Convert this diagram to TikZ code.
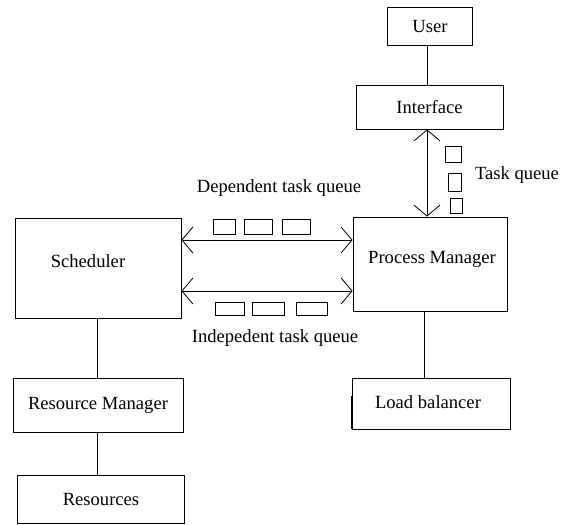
\documentclass[tikz,border=0pt]{standalone}
\usepackage{fontspec}
\setmainfont{Liberation Serif}
\usetikzlibrary{arrows.meta}
\begin{document}
\begin{tikzpicture}[x=1pt,y=-1pt,
  box/.style={draw,line width=0.8pt,inner sep=0pt,font=\fontsize{18.6}{20}\selectfont},
  qbox/.style={draw,line width=0.8pt,inner sep=0pt},
  lbl/.style={font=\fontsize{18.6}{20}\selectfont,inner sep=0pt},
  conn/.style={line width=0.8pt},
  biarrow/.style={line width=0.8pt,{Straight Barb[length=11pt,width=26pt]}-{Straight Barb[length=11pt,width=26pt]}}]
\useasboundingbox (0,0) rectangle (571,525);
% boxes
\node[box,minimum width=85,minimum height=38] (user) at (430,26) {User};
\node[box,minimum width=147,minimum height=44] (iface) at (429.5,107) {Interface};
\node[box,minimum width=154,minimum height=94] (pm) at (430,264) {};
\node[lbl] at (432,259) {Process Manager};
\node[box,minimum width=158,minimum height=51] (lb) at (431,403.5) {};
\node[lbl] at (428,402) {Load balancer};
\draw[line width=1.8pt] (lb.south west) -- ++(0,-33);
\node[box,minimum width=166,minimum height=100] (sched) at (98,268) {};
\node[lbl] at (88,261) {Scheduler};
\node[box,minimum width=170,minimum height=54] (rm) at (98,405) {Resource Manager};
\node[box,minimum width=167,minimum height=48] (res) at (101,499) {Resources};
% plain connectors
\draw[conn] (user.south -| 427,0) -- (iface.north -| 427,0);
\draw[conn] (pm.south -| 424,0) -- (lb.north -| 424,0);
\draw[conn] (sched.south -| 97,0) -- (rm.north -| 97,0);
\draw[conn] (rm.south -| 97,0) -- (res.north -| 97,0);
% arrows
\draw[biarrow] (iface.south -| 427,0) -- (pm.north -| 427,0);
\draw[biarrow] (sched.east |- 0,240) -- (pm.west |- 0,240);
\draw[biarrow] (sched.east |- 0,291) -- (pm.west |- 0,291);
% queue labels
\node[lbl] (dlab) at (279,188) {Dependent task queue};
\node[lbl] (ilab) at (275,338) {Indepedent task queue};
\node[lbl] (tlab) at (517,175) {Task queue};
% queue squares
\node[qbox,minimum width=22,minimum height=15] (d1) at (224,226.5) {};
\node[qbox,minimum width=28,minimum height=15] (d2) at (258,226.5) {};
\node[qbox,minimum width=28,minimum height=15] (d3) at (296,226.5) {};
\node[qbox,minimum width=29,minimum height=13] (i1) at (229.5,308.5) {};
\node[qbox,minimum width=32,minimum height=13] (i2) at (268,308.5) {};
\node[qbox,minimum width=31,minimum height=13] (i3) at (311.5,308.5) {};
\node[qbox,minimum width=16,minimum height=16] (t1) at (453,154) {};
\node[qbox,minimum width=13,minimum height=18] (t2) at (454.5,182) {};
\node[qbox,minimum width=12,minimum height=15] (t3) at (456,205.5) {};
\end{tikzpicture}
\end{document}
